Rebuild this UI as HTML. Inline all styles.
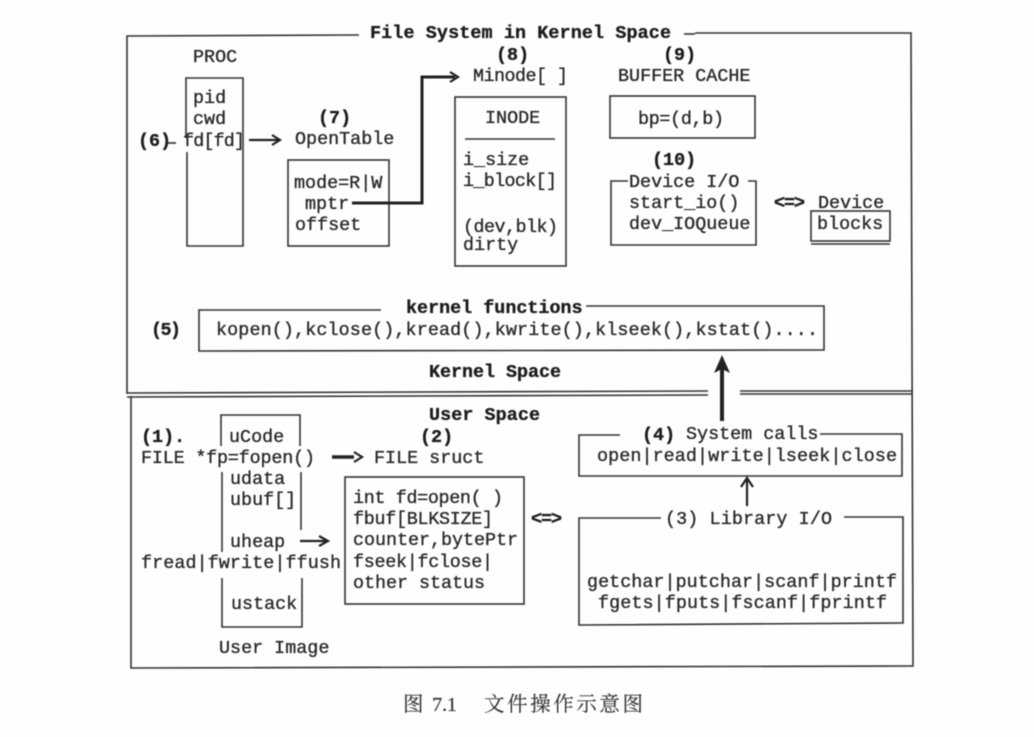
<!DOCTYPE html>
<html lang="zh">
<head>
<meta charset="utf-8">
<title>图 7.1 文件操作示意图</title>
<style>
html,body{margin:0;padding:0;background:#fefefd;}
svg{display:block;filter:blur(0.45px);}
text{font-family:"Liberation Mono",monospace;font-size:18.4px;fill:#2a2a2a;stroke:#2a2a2a;stroke-width:.35px;white-space:pre;}
text.b{font-weight:bold;stroke-width:.35px;fill:#1c1c1c;}
text.cap{font-family:"Liberation Serif","Noto Serif CJK SC",serif;font-size:20.5px;stroke:#333;stroke-width:.15px;fill:#333;}
.l{fill:none;stroke:#333;stroke-width:1.6;}
.t{fill:none;stroke:#222;stroke-width:3;}
.a{fill:none;stroke:#222;stroke-width:2.2;}
</style>
</head>
<body>
<svg width="1034" height="737" viewBox="0 0 1034 737" xmlns="http://www.w3.org/2000/svg">
<!-- outer frame -->
<path class="l" d="M359 35 L127 36 L127 394 M131 396 L131 668 L913 666 L911 33 L695 33"/>
<text class="b" x="370" y="38" textLength="301">File System in Kernel Space</text>
<path class="l" d="M684 34 H695"/>

<!-- PROC -->
<text x="193" y="62">PROC</text>
<path class="l" d="M186 138 V78 H243 V246 H187 V152"/>
<text x="193" y="103">pid</text>
<text x="193" y="124">cwd</text>
<text x="183" y="146" textLength="62">fd[fd]</text>
<text class="b" x="138" y="146">(6)</text>
<path class="l" d="M168 143 H176" />
<path class="a" d="M249 140 H279 M272 135 L280 140 L272 145"/>

<!-- OpenTable -->
<text class="b" x="318" y="123">(7)</text>
<text x="295" y="144">OpenTable</text>
<rect class="l" x="288" y="160" width="101" height="86"/>
<text x="294" y="188">mode=R|W</text>
<text x="305" y="209">mptr</text>
<text x="295" y="230">offset</text>
<path class="t" d="M352 203 H422 V77 H455"/>
<path class="a" d="M450 72 L458 77 L450 82"/>

<!-- Minode -->
<text class="b" x="496" y="60">(8)</text>
<text x="473" y="81" textLength="95">Minode[ ]</text>
<rect class="l" x="455" y="97" width="111" height="169"/>
<text x="485" y="123">INODE</text>
<path class="l" d="M465 139 H555"/>
<text x="463" y="165">i_size</text>
<text x="463" y="186" textLength="94">i_block[]</text>
<text x="463" y="232" textLength="95">(dev,blk)</text>
<text x="463" y="250">dirty</text>

<!-- Buffer cache -->
<text class="b" x="663" y="60">(9)</text>
<text x="618" y="81">BUFFER CACHE</text>
<rect class="l" x="610" y="96" width="145" height="42"/>
<text x="638" y="124" textLength="86">bp=(d,b)</text>

<!-- Device IO -->
<text class="b" x="652" y="165">(10)</text>
<path class="l" d="M628 181 H611 V245 H756 V181 H748"/>
<text x="629" y="187">Device I/O</text>
<text x="629" y="208">start_io()</text>
<text x="629" y="229">dev_IOQueue</text>
<text class="b" x="774" y="208" textLength="31">&lt;=&gt;</text>
<text x="818" y="208">Device</text>
<rect class="l" x="811" y="211" width="79" height="30"/>
<path class="l" d="M811 244 H890"/>
<text x="817" y="229">blocks</text>

<!-- kernel functions -->
<path class="l" d="M381 310 L199 310 V351 L824 350 V306 L586 306"/>
<text class="b" x="406" y="313">kernel functions</text>
<text x="216" y="335" textLength="602">kopen(),kclose(),kread(),kwrite(),klseek(),kstat()....</text>
<text class="b" x="151" y="335" textLength="30">(5)</text>
<text class="b" x="429" y="377" textLength="132">Kernel Space</text>

<!-- divider -->
<path class="l" d="M127 393 L708 391 M127 397 L708 395 M740 391 H913 M740 394 H913"/>
<path d="M722 421 V368" stroke="#222" stroke-width="4" fill="none"/>
<path d="M722 355 L730 373 L722 369 L714 373 Z" fill="#222"/>
<text class="b" x="429" y="420" textLength="111">User Space</text>

<!-- user image -->
<path class="l" d="M221 446 V415 H300 V446 M222 472 V552 M222 578 V627 H302 V578 M301 472 V530"/>
<text class="b" x="141" y="442">(1).</text>
<text x="229" y="442">uCode</text>
<text class="b" x="420" y="442">(2)</text>
<text x="141" y="463" textLength="174">FILE *fp=fopen()</text>
<path d="M332 457 H354" stroke="#222" stroke-width="3.5" fill="none"/>
<path class="a" d="M354 452 L362 457 L354 462"/>
<text x="374" y="463">FILE sruct</text>
<text x="230" y="484">udata</text>
<text x="230" y="505">ubuf[]</text>
<text x="230" y="547">uheap</text>
<path class="a" d="M300 541 H326 M319 536 L328 541 L319 546"/>
<text x="141" y="568" textLength="200">fread|fwrite|ffush</text>
<text x="231" y="609">ustack</text>
<text x="219" y="653">User Image</text>

<!-- FILE struct box -->
<rect class="l" x="345" y="477" width="179" height="127"/>
<text x="353" y="503" textLength="150">int fd=open( )</text>
<text x="353" y="524" textLength="140">fbuf[BLKSIZE]</text>
<text x="353" y="545" textLength="165">counter,bytePtr</text>
<text x="353" y="567" textLength="140">fseek|fclose|</text>
<text x="353" y="588" textLength="132">other status</text>
<text class="b" x="531" y="524" textLength="31">&lt;=&gt;</text>

<!-- system calls -->
<path class="l" d="M620 435 H579 V476 H902 V434 H820"/>
<text class="b" x="642" y="440">(4)</text>
<text x="686" y="439">System calls</text>
<text x="597" y="461" textLength="300">open|read|write|lseek|close</text>
<path class="a" d="M747 506 V479 M741 487 L747 478 L753 487"/>

<!-- library IO -->
<path class="l" d="M661 518 H579 V625 L903 623 V517 H844"/>
<text x="665" y="524" textLength="167">(3) Library I/O</text>
<text x="587" y="587" textLength="310">getchar|putchar|scanf|printf</text>
<text x="598" y="608" textLength="289">fgets|fputs|fscanf|fprintf</text>

<!-- caption -->
<text class="cap" x="403" y="711">图</text>
<text class="cap" x="432" y="711" textLength="25">7.1</text>
<text class="cap" x="484" y="711" textLength="159">文件操作示意图</text>
</svg>
</body>
</html>
